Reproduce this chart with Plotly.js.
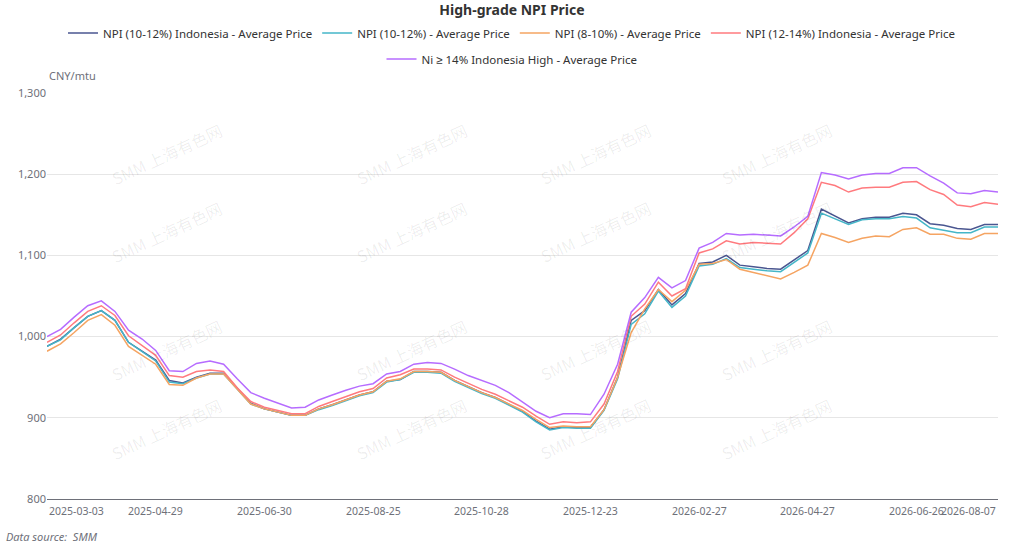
<!DOCTYPE html>
<html>
<head>
<meta charset="utf-8">
<script src="https://cdn.plot.ly/plotly-3.0.1.min.js"></script>
<style>
  html, body { margin: 0; padding: 0; background: #fff; }
  #chart { width: 1024px; height: 543px; }
</style>
</head>
<body>
<div id="chart"></div>
<script>
// weekly samples of the daily SMM quotes, CNY/mtu
var dates = [
  "2025-03-03","2025-03-10","2025-03-17","2025-03-24","2025-03-31","2025-04-08","2025-04-15","2025-04-22",
  "2025-04-29","2025-05-08","2025-05-15","2025-05-22","2025-05-29","2025-06-06","2025-06-13","2025-06-20",
  "2025-06-30","2025-07-07","2025-07-14","2025-07-21","2025-07-28","2025-08-04","2025-08-11","2025-08-18",
  "2025-08-25","2025-09-01","2025-09-09","2025-09-16","2025-09-23","2025-09-30","2025-10-13","2025-10-20",
  "2025-10-28","2025-11-04","2025-11-11","2025-11-18","2025-11-25","2025-12-02","2025-12-09","2025-12-16",
  "2025-12-23","2025-12-30","2026-01-07","2026-01-14","2026-01-21","2026-01-28","2026-02-04","2026-02-11",
  "2026-02-27","2026-03-06","2026-03-13","2026-03-20","2026-03-27","2026-04-03","2026-04-13","2026-04-20",
  "2026-04-27","2026-05-06","2026-05-13","2026-05-20","2026-05-27","2026-06-03","2026-06-10","2026-06-18",
  "2026-06-26","2026-07-03","2026-07-10","2026-07-17","2026-07-24","2026-07-31","2026-08-07"
]

var tickDates = ["2025-03-03","2025-04-29","2025-06-30","2025-08-25","2025-10-28","2025-12-23",
                 "2026-02-27","2026-04-27","2026-06-26","2026-08-07"]

var npiIndo1012 = [
  988, 997, 1011, 1025, 1032, 1020, 993, 982, 971, 946, 943, 950, 955, 955, 936, 918,
  911, 907, 903, 903, 911, 916, 922, 928, 932, 945, 947, 957, 957, 956, 946, 938,
  931, 925, 917, 908, 896, 886, 889, 888, 888, 910, 950, 1020, 1032, 1058, 1039, 1053,
  1090, 1092, 1100, 1088, 1086, 1084, 1083, 1094, 1106, 1157, 1148, 1140, 1145, 1147, 1147, 1152,
  1150, 1139, 1137, 1133, 1132, 1138, 1138
]

var npi1012 = [
  988, 996, 1011, 1025, 1032, 1020, 993, 982, 970, 944, 942, 949, 954, 954, 936, 917,
  911, 907, 903, 903, 910, 915, 921, 927, 931, 944, 947, 956, 956, 955, 945, 937,
  930, 924, 916, 907, 895, 885, 888, 887, 887, 909, 948, 1015, 1028, 1056, 1036, 1050,
  1087, 1089, 1096, 1085, 1083, 1081, 1080, 1091, 1103, 1152, 1145, 1138, 1144, 1145, 1145, 1148,
  1146, 1134, 1131, 1128, 1128, 1135, 1135
]

var npi810 = [
  982, 991, 1005, 1020, 1027, 1014, 988, 977, 966, 941, 940, 949, 954, 954, 935, 917,
  911, 907, 903, 903, 911, 916, 922, 928, 932, 945, 948, 957, 957, 956, 946, 938,
  931, 925, 917, 909, 898, 888, 890, 889, 889, 910, 950, 1005, 1034, 1058, 1043, 1057,
  1089, 1090, 1095, 1083, 1079, 1075, 1071, 1079, 1088, 1127, 1122, 1116, 1121, 1124, 1123, 1132,
  1134, 1126, 1126, 1121, 1120, 1127, 1127
]

var npiIndo1214 = [
  993, 1002, 1017, 1031, 1038, 1026, 1001, 989, 977, 952, 950, 957, 959, 957, 937, 920,
  913, 909, 905, 905, 914, 920, 926, 932, 936, 949, 953, 960, 960, 959, 950, 942,
  935, 929, 921, 913, 902, 892, 895, 894, 895, 917, 957, 1025, 1040, 1067, 1050, 1059,
  1103, 1108, 1118, 1114, 1116, 1115, 1114, 1128, 1145, 1190, 1186, 1178, 1183, 1184, 1184, 1190,
  1191, 1181, 1175, 1162, 1160, 1165, 1163
]

var niIndoHigh = [
  1000, 1009, 1024, 1038, 1044, 1031, 1008, 997, 983, 958, 957, 967, 970, 966, 948, 931,
  924, 918, 912, 913, 922, 928, 934, 939, 942, 954, 957, 966, 968, 967, 960, 952,
  946, 940, 931, 920, 908, 900, 905, 905, 904, 929, 966, 1030, 1048, 1073, 1060, 1069,
  1109, 1116, 1127, 1125, 1126, 1125, 1124, 1135, 1148, 1202, 1199, 1194, 1199, 1201, 1201, 1208,
  1208, 1198, 1189, 1177, 1176, 1180, 1178
]

var seriesNames = [
  "NPI (10-12%) Indonesia - Average Price",
  "NPI (10-12%) - Average Price",
  "NPI (8-10%) - Average Price",
  "NPI (12-14%) Indonesia - Average Price",
  "Ni \u2265 14% Indonesia High - Average Price"
]
var seriesColors = ["#4a5690", "#45b6c8", "#f5a462", "#ff7a7e", "#b66cff"]
var seriesValues = [npiIndo1012, npi1012, npi810, npiIndo1214, niIndoHigh]

var traces = []
for (let i = 0; i < seriesValues.length; i++) {
  traces.push({
    x: dates,
    y: seriesValues[i],
    name: seriesNames[i],
    type: "scatter",
    mode: "lines",
    line: { color: seriesColors[i], width: 1.5 },
    legend: i == 4 ? "legend2" : "legend",
    hoverinfo: "x+y+name"
  })
}

// x tick labels: first left aligned, last right aligned like the source chart
var annotations = []
for (let i = 0; i < tickDates.length; i++) {
  var anchor = "center"
  if (i == 0) anchor = "left"
  if (i == tickDates.length - 1) anchor = "right"
  annotations.push({
    x: tickDates[i], y: 0, xref: "x", yref: "paper",
    text: tickDates[i], showarrow: false,
    xanchor: anchor, yanchor: "top", yshift: -3,
    font: { family: "Noto Sans, sans-serif", size: 10.5, color: "#6e7079" }
  })
}

annotations.push({
  x: 0, y: 1, xref: "paper", yref: "paper", xanchor: "left", yanchor: "bottom",
  yshift: 8, text: "CNY/mtu", showarrow: false,
  font: { family: "Noto Sans, sans-serif", size: 11, color: "#6e7079" }
})
// source note, pixel position converted to paper
annotations.push({
  x: (4 - 47) / 951, y: (499 - 536) / 406, xref: "paper", yref: "paper",
  text: "<i>Data source:  SMM</i>",
  showarrow: false, xanchor: "left", yanchor: "middle",
  font: { family: "Noto Sans, sans-serif", size: 11, color: "#6e7079" }
})

// watermark grid
var wmX = [105, 350, 595, 838]
var wmY = [115, 232, 350, 468]
for (let r = 0; r < wmY.length; r++) {
  for (let c = 0; c < wmX.length; c++) {
    annotations.push({
      x: (wmX[c] - 47) / 951, y: (499 - wmY[r]) / 406, xref: "paper", yref: "paper",
      text: "SMM \u4e0a\u6d77\u6709\u8272\u7f51", showarrow: false, textangle: -25,
      font: { family: "Noto Sans CJK SC, Noto Sans, sans-serif", size: 16, color: "rgba(0,0,0,0.07)" }
    })
  }
}

var layout = {
  width: 1024,
  height: 543,
  paper_bgcolor: "#ffffff",
  plot_bgcolor: "#ffffff",
  margin: { l: 47, r: 26, t: 93, b: 44 },
  font: { family: "Noto Sans, sans-serif", color: "#333" },
  title: {
    text: "<b>High-grade NPI Price</b>",
    x: 0.5, xanchor: "center", y: 1 - 10 / 543, yanchor: "middle",
    font: { size: 14, color: "#333" }
  },
  showlegend: true,
  legend: {
    orientation: "h", x: (512 - 47) / 951, xanchor: "center",
    y: (499 - 33) / 406, yanchor: "middle", itemwidth: 30,
    font: { size: 11.5, color: "#333" }, bgcolor: "rgba(0,0,0,0)"
  },
  legend2: {
    orientation: "h", x: (512 - 47) / 951, xanchor: "center",
    y: (499 - 59) / 406, yanchor: "middle", itemwidth: 30,
    font: { size: 11.5, color: "#333" }, bgcolor: "rgba(0,0,0,0)"
  },
  xaxis: {
    type: "category",
    range: [0, dates.length - 1],
    showticklabels: false,
    ticks: "",
    showgrid: false,
    showline: true,
    linecolor: "#6e7079",
    linewidth: 1,
    zeroline: false,
    fixedrange: true
  },
  yaxis: {
    range: [800, 1300],
    tickvals: [800, 900, 1000, 1100, 1200, 1300],
    tickformat: ",",
    showgrid: true,
    gridcolor: "#e6e6e6",
    showline: false,
    zeroline: false,
    ticks: "",
    tickfont: { size: 11, color: "#6e7079" },
    fixedrange: true
  },
  annotations: annotations
}

Plotly.newPlot("chart", traces, layout, { displayModeBar: false, staticPlot: true })
</script>
</body>
</html>
